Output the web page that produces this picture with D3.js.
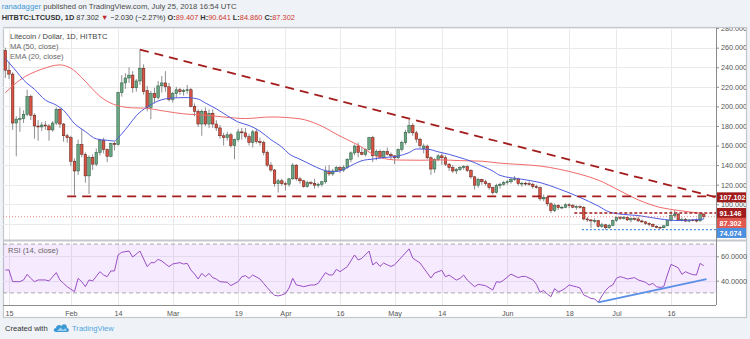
<!DOCTYPE html>
<html>
<head>
<meta charset="utf-8">
<script src="https://cdn.jsdelivr.net/npm/d3@7"></script>
<style>
  html, body { margin: 0; padding: 0; background: #eff2f6; }
  svg { display: block; font-family: "Liberation Sans", Arial, sans-serif; }
</style>
</head>
<body>
<svg id="chart" width="750" height="339"></svg>
<script>
// Daily LTC/USD bars on HitBTC: [month-day, open, high, low, close]
const janBars = [
  ["01-14",257,260,229,237],["01-15",237,245,228,233],["01-16",233,235,176,183],
  ["01-17",183,190,149,187],["01-18",187,199,174,187.5],["01-19",187.5,196,183,192],
  ["01-20",192,217,190,210],["01-21",210,212,186,191],["01-22",191,193,167,180],
  ["01-23",180,186,165,179],["01-24",179,184,175,181],["01-25",181,185,176,180],
  ["01-26",180,182,165,176],["01-27",176,185,174,183],["01-28",183,199,181,197],
  ["01-29",197,198,178,182],["01-30",182,183,164,170],["01-31",170,172,163,168]
];
const febBars = [
  ["02-01",168,170,139,144],["02-02",144,147,109,134],["02-03",134,166,130,161],
  ["02-04",161,177,148,151],["02-05",151,153,122,129],["02-06",129,150,110.5,148],
  ["02-07",148,151,135,141],["02-08",141,157,139,153],["02-09",153,167,150,165],
  ["02-10",165,168,152,156],["02-11",156,157,143,149],["02-12",149,163,148,162],
  ["02-13",162,164,155,161],["02-14",161,215,160,214],["02-15",214,232,210,224],
  ["02-16",224,234,218,229],["02-17",229,240,224,232],["02-18",232,236,214,219],
  ["02-19",219,228,215,226],["02-20",226,258,222,239],["02-21",239,243,212,215],
  ["02-22",216,221,195,199],["02-23",199,216,187,213],["02-24",213,219,203,209],
  ["02-25",209,226,207,221],["02-26",221,231,214,224],["02-27",224,236,215,220],
  ["02-28",220,224,205,207]
];
const marBars = [
  ["03-01",207,215,204,213],["03-02",213,220,209,217],["03-03",217,219,212,215],
  ["03-04",215,218,211,216],["03-05",216,222,213,217],["03-06",217,219,199,200],
  ["03-07",200,203,190,195],["03-08",195,197,179,182],["03-09",182,197,170,195],
  ["03-10",195,199,180,182],["03-11",182,197,178,193],["03-12",193,197,178,182],
  ["03-13",182,186,175,178],["03-14",178,181,167,170],["03-15",170,173,160,168],
  ["03-16",168,174,165,171],["03-17",171,173,158,160],["03-18",160,167,146,166],
  ["03-19",166,177,164,174],["03-20",174,178,166,173],["03-21",173,178,167,169],
  ["03-22",169,172,160,163],["03-23",163,176,158,174],["03-24",174,177,162,164],
  ["03-25",164,168,160,163],["03-26",163,165,150,153],["03-27",153,155,138,140],
  ["03-28",140,143,133,135],["03-29",135,136,118,121],["03-30",121,126,112,124],
  ["03-31",124,126,119,121]
];
const aprBars = [
  ["04-01",121,123,114,120.5],["04-02",120.5,127,118,126],["04-03",126,142,125,140],
  ["04-04",140,141,124,126],["04-05",126,128,121,124],["04-06",124,125,117,118],
  ["04-07",118,124,117,122],["04-08",122,124,120,121.5],["04-09",121.5,126,116,119.5],
  ["04-10",119.5,122,117,120.5],["04-11",120.5,124,118,123],["04-12",123,139,121,134],
  ["04-13",134,140,129,131],["04-14",131,136,129,134],["04-15",134,139,133,137.5],
  ["04-16",137.5,139,132,135],["04-17",135,140,133,137.5],["04-18",137.5,147,136,146],
  ["04-19",146,154,143,152.5],["04-20",152.5,161,150,159.5],["04-21",159.5,163,148,153],
  ["04-22",153,158,150,151],["04-23",151,157,149,156],["04-24",156,169,155,168],
  ["04-25",168,170,143,149.5],["04-26",149.5,156,145,154],["04-27",154,156,147,148],
  ["04-28",148,155,147,154],["04-29",154,158,150,151],["04-30",151,153,146,149.5]
];
const mayBars = [
  ["05-01",149.5,150,141,147.5],["05-02",147.5,157,146,156],["05-03",156,165,154,163],
  ["05-04",163,176,161,173.5],["05-05",173.5,186.5,172,180.5],["05-06",180.5,183,170,173],
  ["05-07",173,175,163,166.5],["05-08",166.5,168,157,160],["05-09",157,162,152,159.5],
  ["05-10",159.5,161,146,147.5],["05-11",147.5,149,130,136],["05-12",136,147,132,145.5],
  ["05-13",145.5,151,144,149.5],["05-14",149.5,152,140,147.5],["05-15",147.5,150,139,141],
  ["05-16",141,142,134,137.5],["05-17",137.5,140,132,134],["05-18",134,137,131,135.5],
  ["05-19",135.5,139,134,137.5],["05-20",137.5,140,135,138.5],["05-21",138.5,140,133,134.5],
  ["05-22",134.5,136,126,128],["05-23",128,129,115,119.5],["05-24",119.5,127,117,125.5],
  ["05-25",125.5,126,120,123],["05-26",123,125,119,121],["05-27",121,122,115,117],
  ["05-28",117,118,110,112],["05-29",112,121,111,119],["05-30",119,122,116,120.5],
  ["05-31",120.5,124,119,122]
];
const junBars = [
  ["06-01",122,125,120,123],["06-02",123,127,121,125.5],["06-03",125.5,129,124,126],
  ["06-04",126,127,119,121],["06-05",121,123,118,121.5],["06-06",121.5,123,119,121],
  ["06-07",121,123.5,119,120.5],["06-08",120.5,122,116,118],["06-09",118,120,116,117],
  ["06-10",117,118,103.5,105.5],["06-11",105.5,110,103,107],["06-12",107,108,98,100.5],
  ["06-13",100.5,102,91,93.5],["06-14",93.5,101,92,99],["06-15",99,100,94,96.5],
  ["06-16",96.5,98.5,95,97],["06-17",97,101,96,99.5],["06-18",99.5,101,96,98.5],
  ["06-19",98.5,100.5,96,97],["06-20",97,99,94.5,97.5],["06-21",97.5,99,95.5,97],
  ["06-22",97,98,83.5,85],["06-23",85,87,82,84],["06-24",84,85,75.8,83],
  ["06-25",83,85.5,80.5,83.3],["06-26",83.3,84,76,77.5],["06-27",77.5,81,76,79],
  ["06-28",79,80,74.074,76],["06-29",76,80,75,78.5],["06-30",78.5,84.5,77.5,83.3]
];
const julBars = [
  ["07-01",83.3,87.5,82,86.5],["07-02",86.5,88,84,85.5],["07-03",85.5,88,84.5,86.7],
  ["07-04",86.7,87.5,83,84],["07-05",84,86.5,81.5,85.5],["07-06",85.5,86.5,83.5,85],
  ["07-07",85,87.5,82,83],["07-08",83,84.5,81,82],["07-09",82,83,79,80.5],
  ["07-10",80.5,81.5,77.5,79.5],["07-11",79.5,80.5,76.5,77.5],["07-12",77.5,78.5,75.5,76.5],
  ["07-13",76.5,77.5,75,76],["07-14",76,78.5,75.5,78],["07-15",78,84,77.5,83.3],
  ["07-16",83.3,93.4,82.5,88.4],["07-17",88.4,94,86,90],["07-18",90,91,83.5,84],
  ["07-19",84,86.5,82.5,84.5],["07-20",84.5,86,82,82.8],["07-21",82.8,84.5,81.5,84],
  ["07-22",84,85,82.5,83.7],["07-23",83.7,85.5,81.5,83],["07-24",83,91,82.5,89.332],
  ["07-25",89.407,90.641,84.86,87.302]
];

// MA (50, close) as plotted
const ma50Points = [
  ["01-14",214],["01-18",227],["01-24",238],["01-29",242.4],["02-01",239],["02-04",229.5],
  ["02-06",221.5],["02-09",210.3],["02-12",203.3],["02-15",199.8],["02-18",198.5],["02-21",198.3],
  ["02-27",195],["03-04",192.4],["03-10",191],["03-15",189.2],["03-21",187.6],["03-28",189.2],
  ["04-05",187.3],["04-10",181.5],["04-16",169.7],["04-21",160.5],["04-27",147.7],["05-02",145.2],
  ["05-08",145],["05-14",145.3],["05-19",144.6],["05-25",144],["05-30",142],["06-04",140.8],
  ["06-10",139.1],["06-15",136],["06-21",130.7],["06-26",124.7],["07-02",113.7],["07-07",104.5],
  ["07-13",96.8],["07-18",93.7],["07-25",90.5]
];
// EMA (20, close) as plotted
const ema20Points = [
  ["01-14",249],["01-17",236],["01-19",227],["01-22",217.5],["01-25",206.5],["01-28",201.3],
  ["01-30",196],["02-02",182.5],["02-05",174.3],["02-08",166.8],["02-11",165.4],["02-13",164.6],
  ["02-14",168],["02-15",172],["02-17",181],["02-19",190.5],["02-22",199.5],["02-25",205.5],
  ["03-01",208.6],["03-05",209],["03-08",207.5],["03-10",203.5],["03-13",197.5],["03-16",190.5],
  ["03-19",184],["03-22",180.5],["03-25",174.7],["03-28",166],["03-31",158.5],["04-02",151.5],
  ["04-05",146],["04-08",140.5],["04-11",135.5],["04-14",133.2],["04-16",134.1],["04-19",139.5],
  ["04-22",144.5],["04-25",146.2],["04-28",147.7],["05-02",149.3],["05-05",152.8],["05-07",156.5],
  ["05-10",156.3],["05-13",153.6],["05-16",151],["05-19",147.7],["05-22",144],["05-25",139.2],
  ["05-28",134],["05-30",129.5],["06-05",125.6],["06-10",122.2],["06-15",116],["06-21",107],
  ["06-26",98.2],["06-29",92.2],["07-02",90],["07-07",88.5],["07-13",85],["07-18",83.4],
  ["07-25",85]
];
// RSI (14, close)
const rsiPoints = [
  ["01-14",48.8],["01-15",48.8],["01-16",39.2],["01-18",39.2],["01-19",40.6],["01-20",45.2],
  ["01-21",41.9],["01-22",39.2],["01-23",40.6],["01-25",40.6],["01-26",39.8],["01-28",46.6],
  ["01-29",40.6],["01-30",37.8],["01-31",35.1],["02-02",31],["02-03",41.9],["02-04",39.2],
  ["02-05",35.1],["02-06",40.6],["02-07",39.8],["02-09",47.4],["02-10",44.7],["02-11",43.3],
  ["02-12",48],["02-13",48],["02-14",61.1],["02-15",63.3],["02-17",64.3],["02-18",59.4],
  ["02-20",64.3],["02-22",51.5],["02-23",54.8],["02-24",54.8],["02-25",57.5],["02-26",56.1],
  ["02-28",51.5],["03-01",53.7],["03-03",54.8],["03-04",53.7],["03-05",54.2],["03-06",48.8],
  ["03-07",45.5],["03-08",41.4],["03-09",46],["03-10",43.3],["03-11",46],["03-12",42.5],
  ["03-13",41.4],["03-14",39.2],["03-16",38.7],["03-17",36],["03-19",39.2],["03-20",43.3],
  ["03-21",44.1],["03-22",41.9],["03-23",44.7],["03-25",41.4],["03-26",37.8],["03-27",34.3],
  ["03-28",31],["03-29",28],["03-30",27.5],["03-31",28.3],["04-01",29.5],["04-02",34],
  ["04-03",42],["04-04",36.5],["04-05",35.9],["04-06",35.1],["04-08",36.5],["04-09",36.5],
  ["04-10",37.8],["04-12",46.6],["04-13",44.7],["04-14",44.7],["04-15",49.3],["04-16",47.4],
  ["04-18",51.5],["04-20",61.1],["04-21",57],["04-22",58.3],["04-24",64.3],["04-25",52.9],
  ["04-26",55.2],["04-27",51.7],["04-28",54.5],["04-29",53],["04-30",51.7],["05-01",53],
  ["05-05",66.1],["05-06",58.5],["05-08",54.5],["05-09",50.4],["05-11",42.2],["05-12",46.3],
  ["05-14",48.5],["05-15",43.2],["05-16",44.6],["05-18",40.5],["05-19",41.9],["05-20",44.6],
  ["05-21",40.5],["05-23",35.1],["05-24",37],["05-25",36.5],["05-26",35.9],["05-28",32.4],
  ["05-29",39.2],["05-30",38.7],["05-31",40.5],["06-02",45.4],["06-04",42.5],["06-05",43.5],
  ["06-06",43.5],["06-08",40.8],["06-09",37],["06-10",30.5],["06-11",32],["06-12",29],
  ["06-13",26.9],["06-14",33.5],["06-15",31],["06-16",32],["06-17",34],["06-18",36.5],
  ["06-19",35.7],["06-20",35],["06-21",34],["06-22",28.3],["06-23",27],["06-24",25.5],
  ["06-25",25],["06-26",22.3],["06-27",27.5],["06-28",32],["06-29",35],["06-30",36.5],
  ["07-01",42],["07-02",43.3],["07-03",42.5],["07-04",41.4],["07-06",42.5],["07-07",40.6],
  ["07-09",38.7],["07-10",36.5],["07-11",37.8],["07-12",35.1],["07-13",34.5],["07-14",35.1],
  ["07-15",44.7],["07-16",53.4],["07-17",52],["07-18",50.5],["07-19",45.2],["07-20",47.4],
  ["07-21",46],["07-22",45],["07-23",44.7],["07-24",54.2],["07-25",52.3]
];

// Drawn levels and trend lines
const downtrend = [["02-20",258],["07-28T10:00",107.102]];
const floorLevel = 108, floorStart = "01-31";
const resistLevel = 91.146, resistStart = "06-19T10:00";
const supportLevel = 74.074, supportStart = "06-21T12:00";
const rsiTrend = [["06-26",22.3],["07-25T18:00",41.2]];

// Axis ticks
const priceTicks = [80,100,120,140,160,180,200,220,240,260,280];
const rsiTicks = [40,60];
const timeTicks = [
  ["01-15","15"],["02-01","Feb"],["02-14","14"],["03-01","Mar"],["03-19","19"],
  ["04-01","Apr"],["04-16","16"],["05-01","May"],["05-14","14"],["06-01","Jun"],
  ["06-18","18"],["07-01","Jul"],["07-16","16"]
];

const day = s => new Date("2018-" + s + (s.length > 5 ? ":00Z" : "T00:00:00Z"));
const bars = [...janBars, ...febBars, ...marBars, ...aprBars, ...mayBars, ...junBars, ...julBars]
  .map(([md, o, h, l, c]) => ({date: day(md), o, h, l, c}));
const last = bars[bars.length - 1];
const prev = bars[bars.length - 2];

const svg = d3.select("#chart");
const L = 3, R = 746, T = 28, B = 318, AX = 716;
const priceBottom = 240, rsiTop = 241, rsiBottom = 305;

const x = d3.scaleUtc().domain([day("01-15"), day("07-16")]).range([9, 671]);
const y = d3.scaleLinear().domain([63.5, 280]).range([priceBottom, 28.1]);
const yR = d3.scaleLinear().domain([30, 70]).range([292.9, 244.1]);

const defs = svg.append("defs");
defs.append("clipPath").attr("id", "clipPrice").append("rect")
  .attr("x", L).attr("y", T).attr("width", AX - L).attr("height", priceBottom - T);
defs.append("clipPath").attr("id", "clipRsi").append("rect")
  .attr("x", L).attr("y", rsiTop).attr("width", AX - L).attr("height", rsiBottom - rsiTop);
defs.append("clipPath").attr("id", "clipPriceAxis").append("rect")
  .attr("x", AX).attr("y", T).attr("width", R - AX).attr("height", priceBottom - T);

// page background and chart frame
svg.append("rect").attr("width", 750).attr("height", 339).attr("fill", "#eff2f6");
svg.append("rect").attr("x", L + 0.5).attr("y", T - 0.5).attr("width", R - L).attr("height", B - T)
  .attr("fill", "#ffffff").attr("stroke", "#c4c8cd").attr("stroke-width", 1.2);

// header
const h1 = svg.append("text").attr("x", 1.7).attr("y", 9.2).attr("font-size", 7.7);
h1.append("tspan").attr("fill", "#3d99d3").text("ranadagger");
h1.append("tspan").attr("fill", "#4a4a4a").text(" published on TradingView.com, July 25, 2018 16:54 UTC");

const chg = last.c - prev.c, pct = chg / prev.c * 100;
const red = "#d0382f";
const h2 = svg.append("text").attr("x", 1.7).attr("y", 19.8).attr("font-size", 7.4).attr("fill", "#333");
h2.append("tspan").attr("font-weight", "bold").text("HITBTC:LTCUSD, 1D ");
h2.append("tspan").text(last.c.toFixed(3) + " ");
h2.append("tspan").attr("fill", "#c0262b").text(chg < 0 ? "\u25BC" : "\u25B2");
h2.append("tspan").text(" " + (chg < 0 ? "\u2212" : "+") + Math.abs(chg).toFixed(3) +
  " (" + (pct < 0 ? "\u2212" : "+") + Math.abs(pct).toFixed(2) + "%) ");
[["O:", last.o], ["H:", last.h], ["L:", last.l], ["C:", last.c]].forEach(([k, v], i) => {
  h2.append("tspan").attr("font-weight", "bold").text((i ? " " : "") + k);
  h2.append("tspan").attr("fill", red).text(v.toFixed(3));
});

// grids
const grid = svg.append("g");
grid.append("g").attr("clip-path", "url(#clipPrice)").selectAll("line").data(priceTicks).join("line")
  .attr("x1", L).attr("x2", AX).attr("y1", d => Math.round(y(d)) + 0.5).attr("y2", d => Math.round(y(d)) + 0.5)
  .attr("stroke", "#eaeaea");
grid.selectAll("line.v").data(timeTicks).join("line").attr("class", "v")
  .attr("x1", d => Math.round(x(day(d[0]))) + 0.5).attr("x2", d => Math.round(x(day(d[0]))) + 0.5)
  .attr("y1", T).attr("y2", rsiBottom).attr("stroke", "#eaeaea");

// RSI band
const rsiG = svg.append("g").attr("clip-path", "url(#clipRsi)");
rsiG.append("rect").attr("x", L).attr("width", AX - L).attr("y", yR(70)).attr("height", yR(30) - yR(70))
  .attr("fill", "#9915ff").attr("fill-opacity", 0.09);
rsiG.selectAll("line.g").data(rsiTicks).join("line").attr("class", "g")
  .attr("x1", L).attr("x2", AX).attr("y1", d => Math.round(yR(d)) + 0.5).attr("y2", d => Math.round(yR(d)) + 0.5)
  .attr("stroke", "#e4daf0");
rsiG.selectAll("line.b").data([70, 30]).join("line").attr("class", "b")
  .attr("x1", L).attr("x2", AX).attr("y1", d => yR(d)).attr("y2", d => yR(d))
  .attr("stroke", "#a8a8a8").attr("stroke-dasharray", "4,3");

// candles
const bw = 2.6;
const cg = svg.append("g").attr("clip-path", "url(#clipPrice)");
cg.selectAll("line.wick").data(bars).join("line").attr("class", "wick")
  .attr("x1", d => x(d.date)).attr("x2", d => x(d.date))
  .attr("y1", d => y(d.h)).attr("y2", d => y(d.l))
  .attr("stroke", "#737375").attr("stroke-width", 0.8);
cg.selectAll("rect.body").data(bars).join("rect").attr("class", "body")
  .attr("x", d => x(d.date) - bw / 2).attr("width", bw)
  .attr("y", d => y(Math.max(d.o, d.c)))
  .attr("height", d => Math.max(0.8, Math.abs(y(d.o) - y(d.c))))
  .attr("fill", d => d.c >= d.o ? "#6ba583" : "#d75442")
  .attr("stroke", d => d.c >= d.o ? "#225437" : "#5b1a13").attr("stroke-width", 0.5);

// moving averages
const maLine = d3.line().x(d => x(day(d[0]))).y(d => y(d[1])).curve(d3.curveMonotoneX);
cg.append("path").attr("d", maLine(ma50Points)).attr("fill", "none")
  .attr("stroke", "#f06a6a").attr("stroke-width", 1);
cg.append("path").attr("d", maLine(ema20Points)).attr("fill", "none")
  .attr("stroke", "#4f5be0").attr("stroke-width", 1);

// current close line
cg.append("line").attr("x1", L).attr("x2", AX).attr("y1", y(last.c)).attr("y2", y(last.c))
  .attr("stroke", "#e06b6b").attr("stroke-width", 0.8).attr("stroke-dasharray", "1,2");

// drawn trend line and levels
const dark = "#a41d1d";
const straight = d3.line().x(d => x(day(d[0]))).y(d => y(d[1]));
cg.append("path").attr("d", straight(downtrend)).attr("fill", "none")
  .attr("stroke", dark).attr("stroke-width", 1.8).attr("stroke-dasharray", "9,6");
cg.append("line").attr("x1", x(day(floorStart))).attr("x2", AX)
  .attr("y1", y(floorLevel)).attr("y2", y(floorLevel))
  .attr("stroke", dark).attr("stroke-width", 1.8).attr("stroke-dasharray", "9,6");
cg.append("line").attr("x1", x(day(resistStart))).attr("x2", AX)
  .attr("y1", y(resistLevel)).attr("y2", y(resistLevel))
  .attr("stroke", dark).attr("stroke-width", 1.4).attr("stroke-dasharray", "3,2");
cg.append("line").attr("x1", x(day(supportStart))).attr("x2", AX)
  .attr("y1", y(supportLevel)).attr("y2", y(supportLevel))
  .attr("stroke", "#4a8fe0").attr("stroke-width", 1.4).attr("stroke-dasharray", "2,2");

// RSI line and trend
const rsiLine = d3.line().x(d => x(day(d[0]))).y(d => yR(d[1]));
rsiG.append("path").attr("d", rsiLine(rsiPoints)).attr("fill", "none")
  .attr("stroke", "#9a4fc4").attr("stroke-width", 1);
svg.append("path").attr("d", rsiLine(rsiTrend)).attr("fill", "none")
  .attr("stroke", "#5a8fe6").attr("stroke-width", 1.8);

// pane separator
svg.append("line").attr("x1", L).attr("x2", R).attr("y1", 240.5).attr("y2", 240.5)
  .attr("stroke", "#c4c8cd").attr("stroke-width", 2);

// legends
const leg = svg.append("g").attr("font-size", 7.6);
leg.append("text").attr("x", 10).attr("y", 38.8).attr("fill", "#444").text("Litecoin / Dollar, 1D, HITBTC");
leg.append("text").attr("x", 10).attr("y", 49.2).attr("fill", "#666").text("MA (50, close)");
leg.append("text").attr("x", 10).attr("y", 59.4).attr("fill", "#666").text("EMA (20, close)");
leg.append("text").attr("x", 8).attr("y", 253.4).attr("fill", "#666").text("RSI (14, close)");

// price axis
const styleAxis = g => {
  g.select(".domain").remove();
  g.selectAll(".tick line").attr("stroke", "#8c8c8c");
  g.selectAll(".tick text").attr("fill", "#555").attr("font-size", 7.2)
    .attr("font-family", "'Liberation Sans', Arial, sans-serif");
};
svg.append("g").attr("clip-path", "url(#clipPriceAxis)").append("g")
  .attr("transform", `translate(${AX},0)`)
  .call(d3.axisRight(y).tickValues(priceTicks).tickFormat(d3.format(".3f")).tickSize(3).tickPadding(2))
  .call(styleAxis);
svg.append("g").attr("transform", `translate(${AX},0)`)
  .call(d3.axisRight(yR).tickValues(rsiTicks).tickFormat(d3.format(".4f")).tickSize(3).tickPadding(2))
  .call(styleAxis);
svg.append("line").attr("x1", AX + 0.5).attr("x2", AX + 0.5).attr("y1", T).attr("y2", rsiBottom)
  .attr("stroke", "#8c8c8c");

// time axis
const tl = new Map(timeTicks.map(([d, t]) => [+day(d), t]));
svg.append("g").attr("transform", `translate(0,${rsiBottom})`)
  .call(d3.axisBottom(x).tickValues(timeTicks.map(d => day(d[0]))).tickFormat(d => tl.get(+d))
    .tickSize(0).tickPadding(6))
  .call(g => {
    g.select(".domain").remove();
    g.selectAll(".tick text").attr("fill", "#555").attr("font-size", 7.2)
      .attr("font-family", "'Liberation Sans', Arial, sans-serif");
  });
svg.append("line").attr("x1", L).attr("x2", AX).attr("y1", rsiBottom + 0.5).attr("y2", rsiBottom + 0.5)
  .attr("stroke", "#8c8c8c");

// axis value tags
const tags = [
  {v: downtrend[1][1], fill: "#a01c1c"},
  {v: resistLevel, fill: "#a01c1c"},
  {v: last.c, fill: "#e0574f"},
  {v: supportLevel, fill: "#4a8fe0"}
].sort((a, b) => b.v - a.v);
let prevY = -Infinity;
tags.forEach(t => { t.y = Math.max(y(t.v), prevY + 10); prevY = t.y; });
const tg = svg.append("g");
tg.selectAll("rect").data(tags).join("rect")
  .attr("x", AX + 1).attr("y", d => d.y - 5).attr("width", R - AX - 1).attr("height", 10)
  .attr("fill", d => d.fill);
tg.selectAll("text").data(tags).join("text")
  .attr("x", AX + 3.5).attr("y", d => d.y + 2.6).attr("fill", "#fff").attr("font-size", 7.2)
  .attr("font-weight", "bold").text(d => d.v.toFixed(3));

// footer
svg.append("text").attr("x", 5).attr("y", 331).attr("font-size", 7.6).attr("fill", "#333").text("Created with");
const logo = svg.append("g").attr("transform", "translate(54,323)");
logo.append("path").attr("d", "M2,9 C-1,9 -1,5 2,5 C2,2 6,1 7.5,3 C9,0 13.5,1 13,5 C15.5,5 15.5,9 13,9 Z")
  .attr("fill", "#3d99d3");
logo.append("path").attr("d", "M3,8 L6.5,4.5 L9,7 L12,5 L12.5,8 Z").attr("fill", "#9fd2f0");
svg.append("text").attr("x", 72).attr("y", 331).attr("font-size", 7.6).attr("fill", "#4fa6dd").text("TradingView");
</script>
</body>
</html>
